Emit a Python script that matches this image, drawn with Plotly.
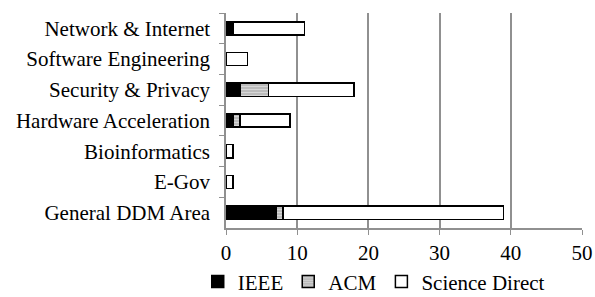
import plotly.graph_objects as go

categories = ["Network & Internet", "Software Engineering", "Security & Privacy",
              "Hardware Acceleration", "Bioinformatics", "E-Gov", "General DDM Area"]
ieee = [1, 0, 2, 1, 0, 0, 7]
acm = [0, 0, 4, 1, 0, 0, 1]
science_direct = [10, 3, 12, 7, 1, 1, 31]
x_ticks = [0, 10, 20, 30, 40, 50]

font = dict(family="Liberation Serif, Times New Roman, serif", size=21, color="#000")

fig = go.Figure()
fig.add_trace(go.Bar(y=categories, x=ieee, name="IEEE", orientation="h",
                     marker=dict(color="#000000", line=dict(color="#000", width=1.5))))
fig.add_trace(go.Bar(y=categories, x=acm, name="ACM", orientation="h",
                     marker=dict(color="#c8c8c8", line=dict(color="#000", width=1.5),
                                 pattern=dict(shape="-", fgcolor="#f4f4f4", bgcolor="#b8b8b8",
                                              size=3, solidity=0.4))))
fig.add_trace(go.Bar(y=categories, x=science_direct, name="Science Direct", orientation="h",
                     marker=dict(color="#ffffff", line=dict(color="#000", width=1.5))))

fig.update_layout(
    barmode="stack", bargap=0.57,
    width=595, height=297,
    margin=dict(l=226, r=13, t=13, b=69, autoexpand=False),
    paper_bgcolor="white", plot_bgcolor="white",
    font=font,
    showlegend=True,
    legend=dict(orientation="h", x=0.415, xanchor="center", y=-0.155, yanchor="top",
                font=dict(size=21), itemwidth=30, tracegroupgap=0,
                traceorder="normal"),
    xaxis=dict(range=[0, 50], tickvals=x_ticks, showgrid=True, gridcolor="#909090", gridwidth=1.5,
               showline=True, linecolor="#909090", linewidth=1.5, ticks="outside", ticklen=5,
               tickcolor="#909090", zeroline=False, tickfont=font, automargin=False),
    yaxis=dict(autorange="reversed", showline=True, linecolor="#909090", linewidth=1.5,
               ticks="outside", tickson="boundaries", ticklen=5, tickcolor="#909090",
               showgrid=False, tickfont=font, ticklabelstandoff=10, automargin=False),
)

fig.write_html("out.html", config={"displayModeBar": False},
               post_script="document.body.style.margin='0';")
